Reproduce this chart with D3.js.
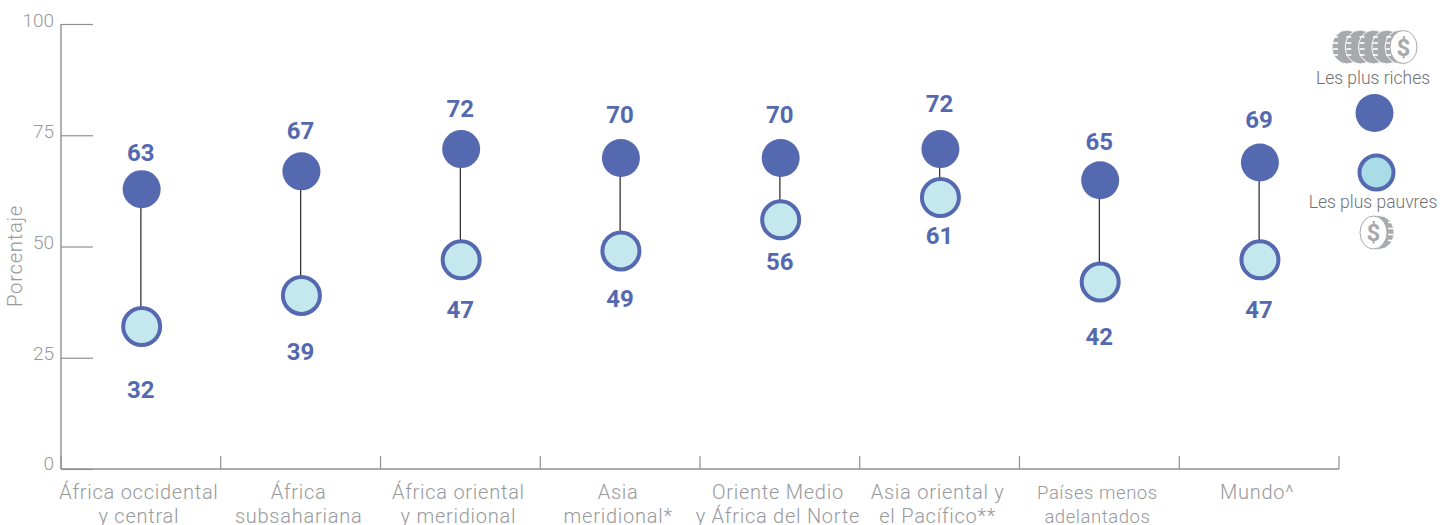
<!DOCTYPE html>
<html><head><meta charset="utf-8">
<script src="https://cdn.jsdelivr.net/npm/d3@7"></script>
<style>
html,body{margin:0;padding:0;background:#fff}
svg{display:block}
text{font-family:Roboto,"Open Sans",sans-serif}
</style></head><body>
<svg id="c" width="1453" height="525"></svg>
<script>
const categories=[["África occidental","y central"],["África","subsahariana"],["África oriental","y meridional"],["Asia","meridional*"],["Oriente Medio","y África del Norte"],["Asia oriental y","el Pacífico**"],["Países menos","adelantados"],["Mundo^"]];
const richest=[63,67,72,70,70,72,65,69];
const poorest=[32,39,47,49,56,61,42,47];
const yTicks=[0,25,50,75,100];
const yTitle="Porcentaje";
const legendRich="Les plus riches";
const legendPoor="Les plus pauvres";
const richCoins=[0,1,2,3,4];

const svg=d3.select("#c");
const blue="#5569b0",grey="#97999c",axisC="#8f9194";
const x=d3.scaleBand().domain(d3.range(categories.length)).range([61,1339]);
const y=d3.scaleLinear().domain([0,100]).range([469,24]);
const labelRich=d3.scaleLinear().domain([63,72]).range([152,103]);
const labelPoor=d3.scaleLinear().domain([32,61]).range([389,235]);
const cx=i=>x(i)+x.bandwidth()/2;

// y axis
const ya=svg.append("g").attr("transform","translate(61,0)").call(d3.axisRight(y).tickValues(yTicks).tickSize(32).tickFormat(""));
ya.select(".domain").attr("stroke",axisC).attr("stroke-width",1.4).attr("d","M0,24V469");
ya.selectAll(".tick line").attr("stroke",axisC).attr("stroke-width",1.2);
svg.append("g").selectAll("text").data(yTicks).join("text")
  .attr("x",54).attr("y",d=>y(d)-(d===0?5.5:4)).attr("text-anchor","end").attr("dy","0.35em")
  .attr("font-size",19).attr("font-weight",300).attr("fill",grey).text(d=>d);
svg.append("text").attr("transform","translate(22,256) rotate(-90)").attr("text-anchor","middle")
  .attr("font-size",20.5).attr("font-weight",300).attr("letter-spacing",0.6).attr("fill",grey).text(yTitle);

// x axis
svg.append("line").attr("x1",61).attr("x2",1339).attr("y1",469).attr("y2",469).attr("stroke",axisC).attr("stroke-width",1.3);
svg.append("g").selectAll("line").data(d3.range(categories.length+1)).join("line")
  .attr("x1",i=>61+i*x.bandwidth()).attr("x2",i=>61+i*x.bandwidth())
  .attr("y1",456).attr("y2",469).attr("stroke",axisC).attr("stroke-width",1.2);
const cat=svg.append("g").selectAll("text").data(categories).join("text")
  .attr("text-anchor","middle").attr("font-size",(d,i)=>i===6?18.5:20).attr("font-weight",300)
  .attr("letter-spacing",(d,i)=>i===6?0.55:0.75).attr("fill",grey);
cat.each(function(d,i){
  d3.select(this).selectAll("tspan").data(d).join("tspan")
    .attr("x",cx(i)-2).attr("y",(s,j)=>499+j*24).text(s=>s);
});

// connectors
svg.append("g").selectAll("line").data(richest).join("line")
  .attr("x1",(d,i)=>cx(i)).attr("x2",(d,i)=>cx(i))
  .attr("y1",d=>y(d)).attr("y2",(d,i)=>y(poorest[i])).attr("stroke","#333").attr("stroke-width",1.3);

// points
svg.append("g").selectAll("circle").data(richest).join("circle")
  .attr("cx",(d,i)=>cx(i)+0.8).attr("cy",d=>y(d)+0.5).attr("r",19).attr("fill",blue);
svg.append("g").selectAll("circle").data(poorest).join("circle")
  .attr("cx",(d,i)=>cx(i)+0.8).attr("cy",d=>y(d)).attr("r",18.5)
  .attr("fill","#c5e8ee").attr("stroke",blue).attr("stroke-width",4);

// value labels
const val=(data,sc,nudge)=>svg.append("g").selectAll("text").data(data).join("text")
  .attr("x",(d,i)=>cx(i)).attr("y",(d,i)=>sc(d)+nudge(i)).attr("dy","0.36em").attr("text-anchor","middle")
  .attr("font-size",24).attr("font-weight",700).attr("fill",blue).text(d=>d);
val(richest,labelRich,i=>i===2?5:0);
val(poorest,labelPoor,()=>0);

// legend
svg.append("circle").attr("cx",1374.5).attr("cy",113).attr("r",19).attr("fill",blue);
svg.append("circle").attr("cx",1376.5).attr("cy",172.5).attr("r",17).attr("fill","#a8dce6").attr("stroke",blue).attr("stroke-width",4);
const legText=(t,yy)=>svg.append("text").attr("x",1373).attr("y",yy).attr("text-anchor","middle").attr("font-size",17.5).attr("font-weight",300).attr("fill","#6f7174").text(t);
legText(legendRich,84);
legText(legendPoor,208);

const coinGrey="#a7a9ac";
function edge(g,cxv,cyv,side){
  g.append("ellipse").attr("cx",cxv).attr("cy",cyv).attr("rx",15).attr("ry",17).attr("fill",coinGrey).attr("stroke","#fff").attr("stroke-width",1);
  [-10,-4,2,8].forEach(o=>g.append("line")
    .attr("x1",cxv+side*14).attr("x2",cxv+side*9).attr("y1",cyv+o).attr("y2",cyv+o)
    .attr("stroke","#fff").attr("stroke-width",1.6));
}
function face(g,cxv,cyv){
  g.append("ellipse").attr("cx",cxv).attr("cy",cyv).attr("rx",13.5).attr("ry",16.5).attr("fill","#fff").attr("stroke",coinGrey).attr("stroke-width",1);
  g.append("text").attr("x",cxv).attr("y",cyv).attr("dy","0.36em").attr("text-anchor","middle").attr("font-size",24).attr("font-weight",700).attr("fill",coinGrey).text("$");
}
const cg=svg.append("g");
richCoins.forEach(k=>edge(cg,1347+k*13.3,47,-1));
face(cg,1403.5,47);
const cp=svg.append("g");
edge(cp,1379,232.5,1);
face(cp,1373.5,232.5);
</script></body></html>
